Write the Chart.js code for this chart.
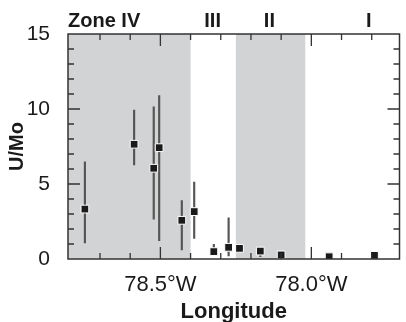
<!DOCTYPE html>
<html>
<head>
<meta charset="utf-8">
<script src="https://cdn.jsdelivr.net/npm/chart.js@4.4.1/dist/chart.umd.min.js"></script>
<style>
  html, body { margin: 0; padding: 0; background: #fff; }
  #wrap { width: 406px; height: 322px; }
</style>
</head>
<body>
<div id="wrap"><canvas id="myChart"></canvas></div>
<script>
// longitude in degrees west, axis runs west -> east
const longitudes = [78.75, 78.587, 78.522, 78.504, 78.429, 78.388, 78.323, 78.274, 78.238, 78.169, 78.1, 77.941, 77.791];
const uMo = [3.33, 7.65, 6.05, 7.42, 2.58, 3.16, 0.49, 0.78, 0.71, 0.53, 0.27, 0.15, 0.24];
const errLow = [1.07, 6.27, 2.65, 1.22, 0.6, 1.38, 0.35, 0.2, 0.71, 0.15, 0.27, 0.15, 0.24];
const errHigh = [6.47, 9.93, 10.15, 10.9, 3.89, 5.13, 0.98, 2.75, 0.71, 0.53, 0.27, 0.15, 0.24];

const xTickValues = [78.5, 78.0];
const yTickValues = [0, 5, 10, 15];

const zoneLabels = ["Zone IV", "III", "II", "I"];
const zoneCenters = [null, 78.327, 78.139, 77.81];

const shadeFrom = [78.806, 78.25];
const shadeTo = [78.4, 78.02];

const xMin = 77.708;
const xMax = 78.806;

const frame = {
  id: "frame",
  beforeDatasetsDraw(chart) {
    const { ctx, chartArea: a, scales: { x } } = chart;
    ctx.save();
    ctx.fillStyle = "#d1d3d4";
    shadeFrom.forEach((from, i) => {
      const p1 = x.getPixelForValue(from);
      const p2 = x.getPixelForValue(shadeTo[i]);
      ctx.fillRect(Math.min(p1, p2), a.top, Math.abs(p2 - p1), a.bottom - a.top);
    });
    ctx.restore();
  },
  afterDatasetsDraw(chart) {
    const { ctx, chartArea: a, scales: { x, y } } = chart;
    ctx.save();
    ctx.strokeStyle = "#333";
    ctx.lineWidth = 1.3;
    ctx.beginPath();
    // inward x ticks, every 0.1 degree
    for (let t = 7770; t <= 7890; t += 10) {
      const px = x.getPixelForValue(t / 100);
      if (px < a.left + 3 || px > a.right - 3) continue;
      const len = (t % 50 === 0) ? 12 : 6;
      ctx.moveTo(px, a.bottom);
      ctx.lineTo(px, a.bottom - len);
      ctx.moveTo(px, a.top);
      ctx.lineTo(px, a.top + len);
    }
    // inward y ticks, every 1
    for (let v = 1; v < 15; v++) {
      const py = y.getPixelForValue(v);
      const len = (v % 5 === 0) ? 12 : 6;
      ctx.moveTo(a.left, py);
      ctx.lineTo(a.left + len, py);
      ctx.moveTo(a.right, py);
      ctx.lineTo(a.right - len, py);
    }
    ctx.stroke();
    ctx.lineWidth = 1.5;
    ctx.strokeRect(a.left, a.top, a.right - a.left, a.bottom - a.top);
    ctx.restore();
  },
  afterDraw(chart) {
    const { ctx, chartArea: a, scales: { x } } = chart;
    ctx.save();
    ctx.fillStyle = "#1a1a1a";
    ctx.font = "bold 20px 'Liberation Sans', Arial, sans-serif";
    ctx.textBaseline = "alphabetic";
    zoneLabels.forEach((lab, i) => {
      if (zoneCenters[i] === null) {
        ctx.textAlign = "left";
        ctx.fillText(lab, a.left, a.top - 7);
      } else {
        ctx.textAlign = "center";
        ctx.fillText(lab, x.getPixelForValue(zoneCenters[i]), a.top - 7);
      }
    });
    ctx.restore();
  },
};

const myChart = document.querySelector("#myChart");
const chart = new Chart(myChart, {
  type: "scatter",
  data: {
    datasets: [
      {
        type: "scatter",
        data: longitudes.map((lon, i) => ({ x: lon, y: uMo[i] })),
        pointStyle: "rect",
        pointRadius: 5.5,
        backgroundColor: "#1a1a1a",
        borderColor: "#fff",
        borderWidth: 1,
        order: 0,
      },
      {
        type: "bar",
        data: longitudes.map((lon, i) => ({ x: lon, y: [errLow[i], errHigh[i]] })),
        backgroundColor: "#555",
        barThickness: 1.5,
        grouped: false,
        order: 1,
      },
    ],
  },
  plugins: [frame],
  options: {
    responsive: true,
    maintainAspectRatio: false,
    animation: false,
    events: [],
    layout: { padding: { top: 34, right: 3, left: 0, bottom: 0 } },
    plugins: { legend: { display: false }, tooltip: { enabled: false } },
    scales: {
      x: {
        type: "linear",
        reverse: true,
        min: xMin,
        max: xMax,
        offset: false,
        grid: { display: false },
        border: { display: false },
        afterBuildTicks(scale) {
          scale.ticks = xTickValues.map((v) => ({ value: v }));
        },
        afterFit(scale) {
          scale.height = 63;
        },
        ticks: {
          padding: 5,
          color: "#1a1a1a",
          font: { family: "'Liberation Sans', Arial, sans-serif", size: 22 },
          callback: (v) => Number(v).toFixed(1) + "°W",
        },
        title: {
          display: true,
          text: "Longitude",
          color: "#1a1a1a",
          font: { family: "'Liberation Sans', Arial, sans-serif", size: 22, weight: "bold" },
          padding: { top: 0, bottom: -3 },
        },
      },
      y: {
        min: 0,
        max: 15,
        grid: { display: false },
        border: { display: false },
        afterBuildTicks(scale) {
          scale.ticks = yTickValues.map((v) => ({ value: v }));
        },
        afterFit(scale) {
          scale.width = 68;
        },
        ticks: {
          padding: 10,
          color: "#1a1a1a",
          font: { family: "'Liberation Sans', Arial, sans-serif", size: 21 },
        },
        title: {
          display: true,
          text: "U/Mo",
          color: "#1a1a1a",
          font: { family: "'Liberation Sans', Arial, sans-serif", size: 20, weight: "bold" },
          padding: { top: 5, bottom: 0 },
        },
      },
    },
  },
});
</script>
</body>
</html>
